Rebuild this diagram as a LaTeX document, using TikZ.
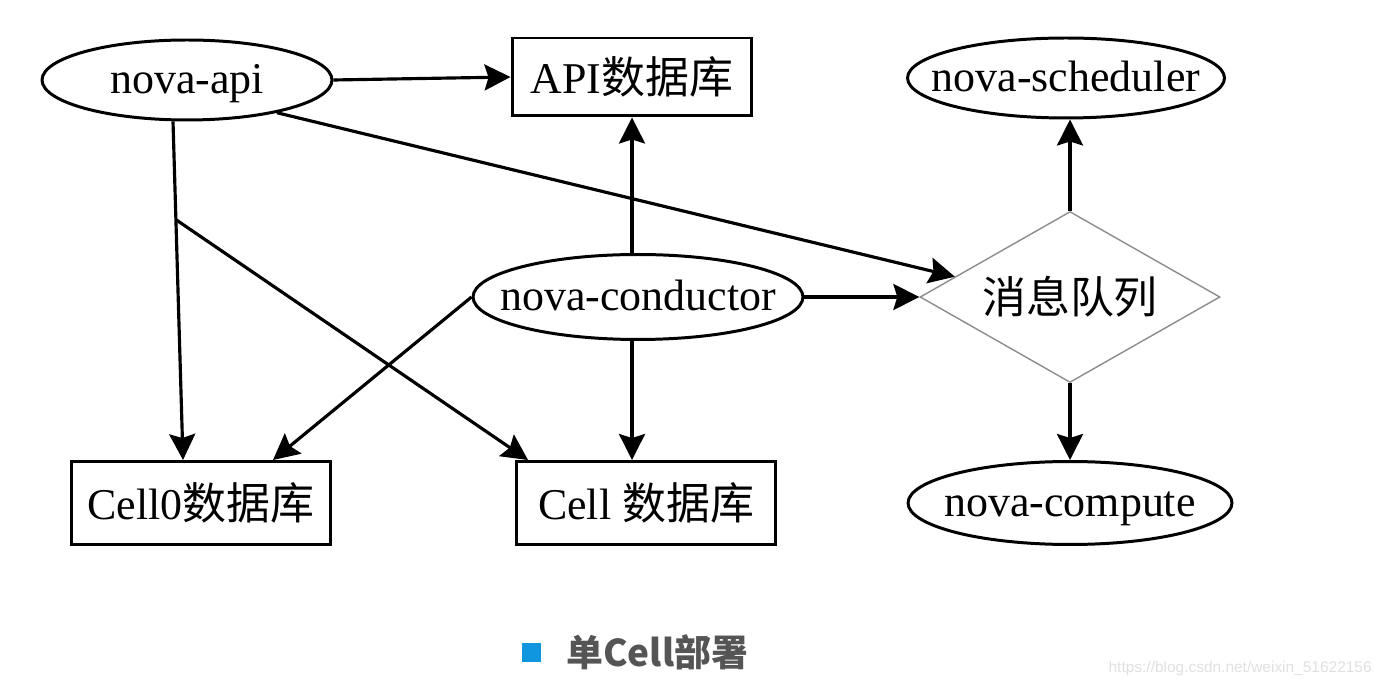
\documentclass[tikz,border=0pt]{standalone}
\usepackage{fontspec}
\setmainfont{Liberation Serif}
\newfontfamily\cjk{Noto Sans CJK SC}
\newfontfamily\websans{Liberation Sans}
\usetikzlibrary{calc}
\usetikzlibrary{arrows, arrows.meta}
\usetikzlibrary{shapes.geometric}

\definecolor{captionblue}{RGB}{16,150,222}
\definecolor{captiongray}{RGB}{85,85,85}

\begin{document}
\begin{tikzpicture}[x=0.02cm, y=-0.02cm]

\useasboundingbox (0, 0) rectangle (1381, 688) ;

\def\labelsize{\fontsize{25}{30}\selectfont}

% the ellipse size comes from minimum width/height only, not from the text
\tikzstyle{service} =
	[draw=black, ellipse, line width=1.7pt, inner sep=0pt, font=\labelsize, text height=20pt, text depth=5pt,
	 execute at begin node={\hbox to 0pt\bgroup\hss}, execute at end node={\hss\egroup}]
\tikzstyle{database} =
	[draw=black, rectangle, line width=1.7pt, inner sep=0pt, minimum height=1.66cm, font=\labelsize]
\tikzstyle{message queue} =
	[draw=black!45, diamond, line width=.8pt, aspect=1.75, inner sep=0pt, minimum width=6cm, minimum height=3.42cm, font=\labelsize\cjk]
\tikzstyle{link} =
	[line width=1.8pt, black, -{Stealth[length=0.52cm, width=0.52cm, inset=0.08cm]}]

% services

\node [service, minimum width=5.8cm, minimum height=1.6cm] (novaapi) at (187, 80) {nova-api} ;
\node [service, minimum width=6.34cm, minimum height=1.6cm] (scheduler) at (1066, 78) {nova-scheduler} ;
\node [service, minimum width=6.6cm, minimum height=1.7cm] (conductor) at (638, 297) {nova-conductor} ;
\node [service, minimum width=6.48cm, minimum height=1.66cm] (compute) at (1070, 503) {nova-compute} ;

% databases

\node [database, minimum width=4.8cm, minimum height=1.56cm] (apidb) at (632, 77) {API{\cjk 数据库}} ;
\node [database, minimum width=5.18cm] (cellzerodb) at (201, 503) {Cell0{\cjk 数据库}} ;
\node [database, minimum width=5.18cm] (celldb) at (646, 503) {Cell {\cjk 数据库}} ;

% message queue

\node [message queue] (mq) at (1070, 297) {消息队列} ;

% connectors

\coordinate (apiout) at ([xshift=-0.28cm]novaapi.south) ;
\coordinate (cellzeroin) at ([xshift=-0.36cm]cellzerodb.north) ;
\coordinate (apisplit) at ($(apiout)!0.29!(cellzeroin)$) ;

\draw [link] (novaapi.east) -- (apidb.west) ;
\draw [link] (novaapi.-20) -- (mq.170) ;
\draw [link] (apiout) -- (cellzeroin) ;
\draw [link] (apisplit) -- ([xshift=0.26cm]celldb.north west) ;

\draw [link] (conductor.north -| apidb) -- (apidb.south) ;
\draw [link] (conductor.west) -- ([xshift=-1.18cm]cellzerodb.north east) ;
\draw [link] (conductor.south -| apidb) -- (celldb.north -| apidb) ;
\draw [link] (conductor.east) -- (mq.west) ;

\draw [link] (mq.north) -- (mq.north |- scheduler.south) ;
\draw [link] (mq.south) -- (mq.south |- compute.north) ;

% caption

\node [fill=captionblue, minimum size=0.38cm, inner sep=0pt] (bullet) at (531, 652) {} ;
\node [anchor=west, inner sep=0pt, text=captiongray, font=\fontsize{21}{25}\selectfont\cjk\bfseries] (caption) at (566, 652) {单Cell部署} ;

\node [anchor=east, inner sep=0pt, text=black!12, font=\fontsize{8.8}{10}\selectfont\websans] (watermark) at (1372, 668) {https://blog.csdn.net/weixin\_51622156} ;

\end{tikzpicture}
\end{document}
